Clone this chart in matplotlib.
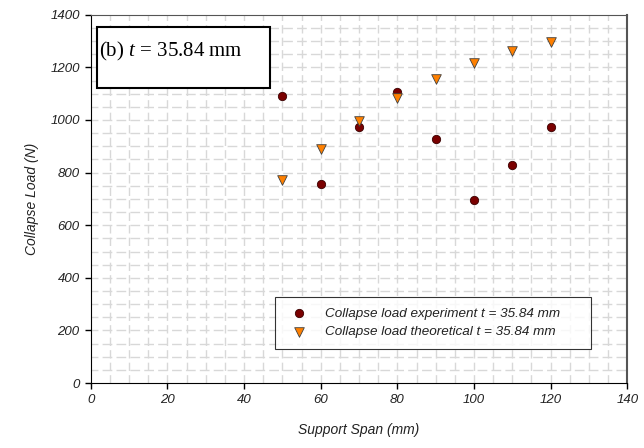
import matplotlib
matplotlib.use("Agg")
from matplotlib import pyplot as plt
from matplotlib.patches import Rectangle
import numpy as np

# data
span = [50, 60, 70, 80, 90, 100, 110, 120]
load_experiment = [1090, 755, 975, 1105, 928, 695, 828, 975]
load_theoretical = [770, 890, 995, 1085, 1155, 1215, 1262, 1298]

x_ticks = [0, 20, 40, 60, 80, 100, 120, 140]
y_ticks = [0, 200, 400, 600, 800, 1000, 1200, 1400]

plt.rcParams["font.family"] = ["Liberation Sans", "DejaVu Sans"]
plt.rcParams["mathtext.fontset"] = "custom"
plt.rcParams["mathtext.it"] = "Liberation Serif:italic"
plt.rcParams["mathtext.rm"] = "Liberation Serif"

fig = plt.figure(figsize=(6.44, 4.48), dpi=100)
ax = fig.add_axes([0.141, 0.145, 0.833, 0.822])

# fine broken-looking grid
for gx in np.arange(5, 140, 5):
    ax.axvline(gx, color="#d8d8d8", lw=1.0, ls=(0, (6, 3)), zorder=0)
for gy in np.arange(50, 1400, 50):
    ax.axhline(gy, color="#d8d8d8", lw=1.0, ls=(2, (7, 3)), zorder=0)

ax.scatter(span, load_experiment, marker="o", s=36, color="#7a0000",
           edgecolors="#3a0000", linewidths=0.6, zorder=3,
           label="Collapse load experiment t = 35.84 mm")
ax.scatter(span, load_theoretical, marker="v", s=48, color="#ff8000",
           edgecolors="#404040", linewidths=0.6, zorder=3,
           label="Collapse load theoretical t = 35.84 mm")

ax.set_xlim(0, 140)
ax.set_ylim(0, 1400)
ax.set_xticks(x_ticks)
ax.set_yticks(y_ticks)
ax.tick_params(direction="out", length=4, width=1, labelsize=9.5, pad=4)
for lab in ax.get_xticklabels() + ax.get_yticklabels():
    lab.set_fontstyle("italic")
    lab.set_color("#222222")

ax.spines["left"].set_color("black")
ax.spines["bottom"].set_color("black")
ax.spines["top"].set_color("#555555")
ax.spines["right"].set_color("#555555")
ax.spines["right"].set_linewidth(1.5)

ax.set_xlabel("Support Span (mm)", fontsize=10, fontstyle="italic",
              color="#222222", labelpad=12)
ax.set_ylabel("Collapse Load (N)", fontsize=10, fontstyle="italic",
              color="#222222", labelpad=8)

# label box
ax.add_patch(Rectangle((0.011, 0.802), 0.323, 0.165, transform=ax.transAxes,
                       facecolor="white", edgecolor="black", lw=1.5, zorder=4))
ax.text(0.016, 0.9, "(b) $t$ = 35.84 mm", transform=ax.transAxes,
        fontsize=15, family="Liberation Serif", va="center", ha="left",
        zorder=5)

leg = ax.legend(loc="lower left", bbox_to_anchor=(0.343, 0.092, 0.59, 0.155),
                mode="expand", frameon=True, fancybox=False,
                borderpad=0.8, borderaxespad=0, handletextpad=0.9,
                labelspacing=0.45, prop={"style": "italic", "size": 9.7})
leg.get_frame().set_edgecolor("black")
leg.get_frame().set_linewidth(0.8)
for t in leg.get_texts():
    t.set_color("#222222")

fig.savefig("out.png", dpi=100)
